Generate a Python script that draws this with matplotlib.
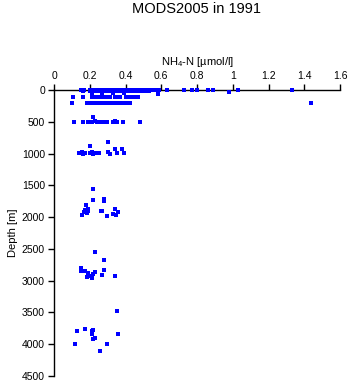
import matplotlib
matplotlib.use("Agg")
import matplotlib.pyplot as plt
import numpy as np

plt.rcParams["font.family"] = ["Liberation Sans", "DejaVu Sans"]
plt.rcParams["mathtext.fontset"] = "custom"
plt.rcParams["mathtext.rm"] = "Liberation Sans"
plt.rcParams["mathtext.it"] = "Liberation Sans"

# upper water column, 0-200 m
upper_nh4 = [0.15, 0.17, 0.20, 0.22, 0.24, 0.26, 0.28, 0.30, 0.32, 0.34, 0.36, 0.38,
             0.40, 0.42, 0.44, 0.46, 0.48, 0.50, 0.52, 0.54, 0.56, 0.575, 0.59, 0.63,
             0.73, 0.77, 0.80, 0.86, 0.89, 1.03, 1.33,
             0.16, 0.21, 0.23, 0.25, 0.27, 0.29, 0.31, 0.33, 0.35, 0.37, 0.39, 0.41,
             0.43, 0.45, 0.47, 0.49, 0.51, 0.53,
             0.20, 0.22, 0.25, 0.28, 0.31, 0.34, 0.37, 0.40, 0.43, 0.46, 0.49, 0.98,
             0.21, 0.27, 0.33, 0.39, 0.58,
             0.107, 0.163, 0.21, 0.225, 0.24, 0.255, 0.27, 0.285, 0.30, 0.315,
             0.34, 0.355, 0.37, 0.40, 0.415, 0.43, 0.445, 0.47,
             0.098, 0.184, 0.197, 0.21, 0.225, 0.24, 0.255, 0.27, 0.285, 0.30,
             0.315, 0.335, 0.35, 0.365, 0.38, 0.395, 0.41, 0.425, 1.44]
upper_depth = [0] * 31 + [10] * 18 + [20] * 11 + [30] + [50] * 4 + [70] \
    + [115] * 18 + [205] * 19

mid_nh4 = [0.112, 0.16, 0.19, 0.20, 0.21, 0.23, 0.24, 0.255, 0.27, 0.28, 0.295,
           0.33, 0.34, 0.355, 0.385, 0.48, 0.22,
           0.139, 0.154, 0.165, 0.172, 0.20, 0.21, 0.22, 0.234, 0.251, 0.30, 0.313,
           0.35, 0.39, 0.20, 0.30, 0.34, 0.38]
mid_depth = [500, 500, 500, 510, 500, 490, 500, 510, 500, 500, 510,
             500, 490, 500, 500, 500, 430,
             990, 980, 1000, 985, 990, 980, 1000, 990, 985, 980, 1000,
             990, 995, 875, 822, 928, 922]

deep_nh4 = [0.219, 0.219, 0.281, 0.281, 0.178, 0.172, 0.191, 0.191, 0.185, 0.154,
            0.266, 0.262, 0.299, 0.331, 0.341, 0.346, 0.359, 0.17,
            0.232, 0.281, 0.15, 0.15, 0.163, 0.172, 0.191, 0.219, 0.232, 0.281,
            0.27, 0.182, 0.197, 0.21, 0.343,
            0.35, 0.131, 0.172, 0.21, 0.219, 0.21, 0.229, 0.219, 0.359, 0.12,
            0.294, 0.26]
deep_depth = [1555, 1738, 1722, 1740, 1817, 1895, 1880, 1900, 1930, 1974,
              1911, 1905, 1985, 1947, 1869, 1963, 1922, 1925,
              2551, 2682, 2797, 2855, 2855, 2850, 2882, 2892, 2866, 2840,
              2907, 2945, 2934, 2960, 2934,
              3484, 3799, 3757, 3799, 3783, 3835, 3898, 3914, 3835, 3993,
              3993, 4113]

nh4 = np.array(upper_nh4 + mid_nh4 + deep_nh4)
depth = np.array(upper_depth + mid_depth + deep_depth)

fig = plt.figure(figsize=(3.5, 3.84), dpi=100)
ax = fig.add_axes([54 / 350, 8 / 384, 286 / 350, 286 / 384])

ax.plot(nh4, depth, linestyle="none", marker="s", markersize=2.2,
        markeredgewidth=0, color="#0000ff", antialiased=False,
        clip_on=False, zorder=5)

ax.set_xlim(0, 1.6)
ax.set_ylim(4500, 0)
ax.set_xticks(np.arange(0, 1.61, 0.2))
ax.set_xticklabels(["0", "0.2", "0.4", "0.6", "0.8", "1", "1.2", "1.4", "1.6"])
ax.set_yticks(np.arange(0, 4501, 500))

ax.xaxis.tick_top()
ax.xaxis.set_label_position("top")
for side in ("right", "bottom"):
    ax.spines[side].set_visible(False)
for side in ("top", "left"):
    ax.spines[side].set_linewidth(1.0)
ax.tick_params(direction="out", length=4.5, width=1.0, labelsize=7.5, pad=2)

ax.set_xlabel("NH$_4$-N [µmol/l]", fontsize=8, labelpad=4)
ax.set_ylabel("Depth [m]", fontsize=8, labelpad=3)
fig.text(197 / 350, 1 - 9 / 384, "MODS2005 in 1991", ha="center", va="center",
         fontsize=10.5)

fig.savefig("out.png", dpi=100)
